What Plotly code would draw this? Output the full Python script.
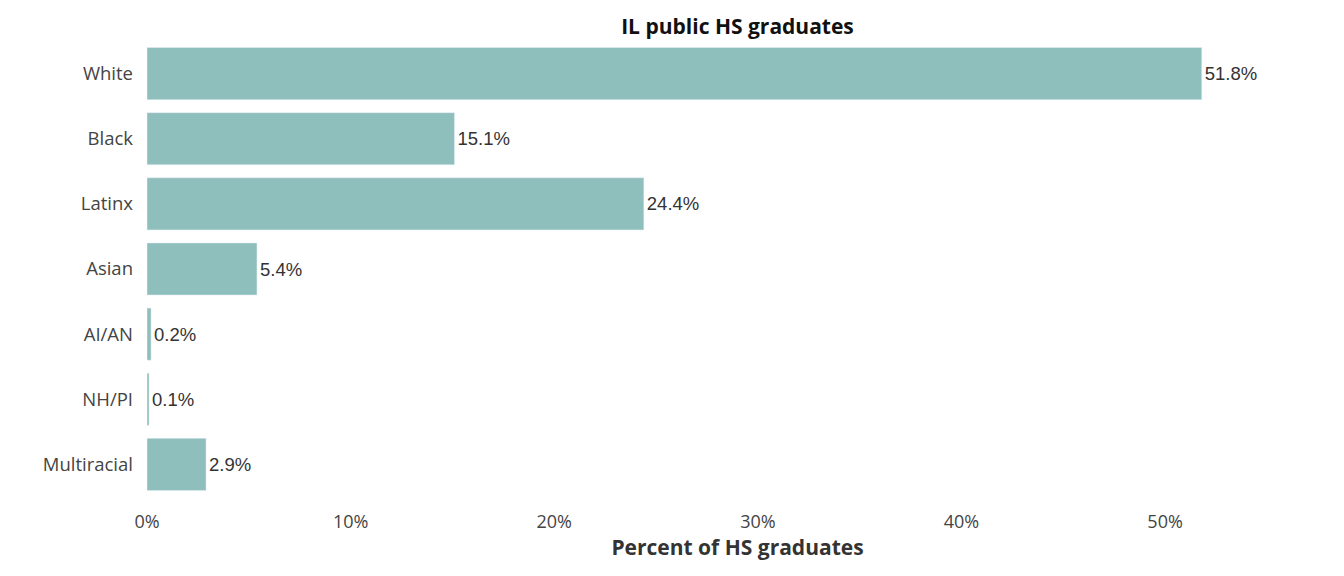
import plotly.graph_objects as go

groups = ["White", "Black", "Latinx", "Asian", "AI/AN", "NH/PI", "Multiracial"]
pct = [51.8, 15.1, 24.4, 5.4, 0.2, 0.1, 2.9]
labels = ["51.8%", "15.1%", "24.4%", "5.4%", "0.2%", "0.1%", "2.9%"]
tick_vals = [0, 10, 20, 30, 40, 50]
tick_text = ["0%", "10%", "20%", "30%", "40%", "50%"]

fig = go.Figure(go.Bar(
    x=pct, y=groups, orientation="h",
    marker_color="#8fbfbc", width=0.8,
    text=labels, textposition="outside", cliponaxis=False,
    textfont=dict(family="Liberation Sans", size=18.5, color="#333333"),
))

# page body has an 8px margin, so the figure is a little smaller than the window
fig.update_layout(
    width=1336, height=568,
    margin=dict(l=139, r=16, t=33, b=79),
    plot_bgcolor="white", paper_bgcolor="white",
    title=dict(text="<b>IL public HS graduates</b>", x=0.5, xanchor="center", xref="paper",
               y=0.968, yanchor="middle",
               font=dict(family="Open Sans", size=21, color="#111111")),
    showlegend=False,
)
fig.update_xaxes(range=[0, 58], tickvals=tick_vals, ticktext=tick_text,
                 showgrid=False, zeroline=False, showline=False, ticklabelstandoff=12,
                 automargin=False,
                 tickfont=dict(family="Open Sans", size=18, color="#444444"),
                 title=dict(text="<b>Percent of HS graduates</b>", standoff=6,
                            font=dict(family="Open Sans", size=21, color="#333333")))
fig.update_yaxes(categoryorder="array", categoryarray=groups, autorange="reversed",
                 showgrid=False, zeroline=False, showline=False, ticklabelstandoff=13,
                 automargin=False,
                 tickfont=dict(family="Open Sans", size=18.5, color="#444444"))

fig.write_html("out.html")
